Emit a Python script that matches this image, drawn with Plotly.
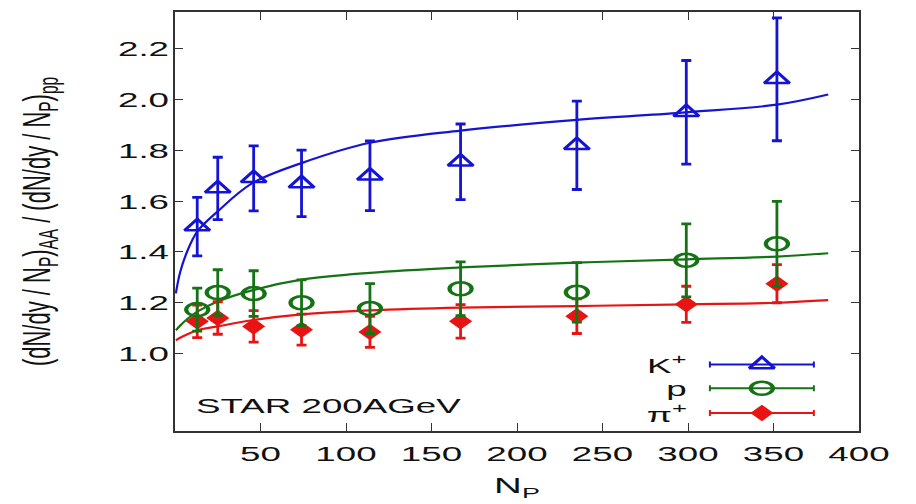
import plotly.graph_objects as go

# ---- data ----
npart = [13, 25, 46, 74, 114, 167, 235, 299, 352]

kplus = [1.50, 1.65, 1.69, 1.67, 1.70, 1.755, 1.82, 1.95, 2.08]
kplus_err = [0.115, 0.123, 0.128, 0.131, 0.137, 0.149, 0.174, 0.204, 0.242]

proton = [1.173, 1.240, 1.236, 1.200, 1.177, 1.255, 1.241, 1.367, 1.432]
proton_err = [0.085, 0.09, 0.09, 0.09, 0.098, 0.106, 0.117, 0.144, 0.167]

piplus = [1.127, 1.140, 1.107, 1.094, 1.085, 1.127, 1.147, 1.194, 1.275]
piplus_err = [0.064, 0.064, 0.062, 0.061, 0.061, 0.066, 0.068, 0.071, 0.075]

curve_x = [0.5, 3, 7, 13, 25, 45, 74, 114, 167, 235, 299, 352, 382]
kplus_curve = [1.237, 1.32, 1.40, 1.48, 1.56, 1.67, 1.75, 1.83, 1.878, 1.92, 1.95, 1.98, 2.02]
proton_curve = [1.092, 1.11, 1.135, 1.165, 1.205, 1.249, 1.291, 1.318, 1.339, 1.358, 1.371, 1.382, 1.395]
piplus_curve = [1.052, 1.062, 1.075, 1.092, 1.107, 1.131, 1.154, 1.170, 1.181, 1.187, 1.194, 1.200, 1.210]

x_ticks = [50, 100, 150, 200, 250, 300, 350, 400]
y_ticks = [1.0, 1.2, 1.4, 1.6, 1.8, 2.0, 2.2]

series_names = ["K<sup>+</sup>", "p", "π<sup>+</sup>"]

BLUE = "#1414d2"
GREEN = "#157315"
RED = "#e81414"
FONT = "Liberation Sans"

fig = go.Figure()

# fit curves
for cy, col in [(kplus_curve, BLUE), (proton_curve, GREEN), (piplus_curve, RED)]:
    fig.add_trace(go.Scatter(x=curve_x, y=cy, mode="lines",
                             line=dict(color=col, width=2.2, shape="spline"),
                             showlegend=False, hoverinfo="skip"))

# data points
specs = [
    (piplus, piplus_err, RED, "diamond", 10),
    (proton, proton_err, GREEN, "circle-open", 13),
    (kplus, kplus_err, BLUE, "triangle-up-open", 15),
]
for vals, errs, col, sym, sz in specs:
    fig.add_trace(go.Scatter(
        x=npart, y=vals, mode="markers",
        marker=dict(symbol=sym, size=sz, color=col, line=dict(color=col, width=2.5)),
        error_y=dict(type="data", array=errs, visible=True, color=col, thickness=2.8, width=5),
        showlegend=False))

# custom legend (overlay axis in plot-fraction units)
leg_rows = [0.159, 0.102, 0.043]
leg_syms = ["triangle-up-open", "circle-open", "diamond"]
leg_sizes = [15, 13, 10]
leg_cols = [BLUE, GREEN, RED]
for name, ry, sym, sz, col in zip(series_names, leg_rows, leg_syms, leg_sizes, leg_cols):
    fig.add_trace(go.Scatter(
        x=[0.858], y=[ry], mode="markers", xaxis="x2", yaxis="y2",
        marker=dict(symbol=sym, size=sz, color=col, line=dict(color=col, width=2.5)),
        error_x=dict(type="constant", value=0.076, visible=True, color=col, thickness=2, width=3),
        showlegend=False, hoverinfo="skip"))
    fig.add_annotation(x=0.752, y=ry, xref="x2", yref="y2", text=name, showarrow=False,
                       xanchor="right", yanchor="middle",
                       font=dict(family=FONT, size=21, color="#111"))

fig.add_annotation(x=0.028, y=0.062, xref="x2", yref="y2", text="STAR 200AGeV",
                   showarrow=False, xanchor="left", yanchor="middle",
                   font=dict(family=FONT, size=21, color="#111"))

axis_common = dict(showline=True, linecolor="#333", linewidth=1.5, mirror="ticks",
                   ticks="inside", ticklen=8, tickwidth=1.2, tickcolor="#333",
                   showgrid=False, zeroline=False,
                   tickfont=dict(family=FONT, size=21, color="#111"))

fig.update_layout(
    width=916, height=504,
    margin=dict(l=175, r=57, t=10, b=73),
    paper_bgcolor="white", plot_bgcolor="white",
    xaxis=dict(range=[0, 400], tickvals=x_ticks, ticktext=[str(v) for v in x_ticks],
               ticklabelstandoff=3,
               title=dict(text="N<sub>P</sub>", font=dict(family=FONT, size=22, color="#111"), standoff=14),
               **axis_common),
    yaxis=dict(range=[0.695, 2.345], tickvals=y_ticks, tickformat=".1f",
               title=dict(text="(dN/dy / N<sub>P</sub>)<sub>AA</sub> / (dN/dy / N<sub>P</sub>)<sub>pp</sub>",
                          font=dict(family=FONT, size=22, color="#111"), standoff=88),
               **axis_common),
    xaxis2=dict(overlaying="x", range=[0, 1], visible=False, fixedrange=True),
    yaxis2=dict(overlaying="y", range=[0, 1], visible=False, fixedrange=True),
)

# The reference picture is stretched horizontally; mimic that for texts and markers.
post_js = r"""
(function(){
  var gd = document.querySelector('.plotly-graph-div');
  if (!gd) return;
  var S = 1.75;
  var texts = gd.querySelectorAll('svg.main-svg text');
  texts.forEach(function(el){
    if (!el.textContent || !el.textContent.trim()) return;
    var r = el.getBoundingClientRect();
    if (r.width === 0) return;
    var anchor = el.getAttribute('text-anchor') || 'start';
    var ax;
    var ann = el.closest('g.annotation');
    if (ann) {
      var idx = parseInt(ann.getAttribute('data-index') || '0');
      ax = (idx < 3) ? r.right : r.left;
    } else if (anchor === 'end') { ax = r.right; }
    else if (anchor === 'middle') { ax = r.left + r.width / 2; }
    else { ax = r.left; }
    var pm = el.parentNode.getScreenCTM();
    var px = (ax - pm.e) / pm.a;
    var old = el.getAttribute('transform') || '';
    el.setAttribute('transform', 'translate(' + px + ',0) scale(' + S + ',1) translate(' + (-px) + ',0) ' + old);
  });
  var pts = gd.querySelectorAll('.scatterlayer path.point');
  pts.forEach(function(p){
    var d = p.getAttribute('d') || '';
    var s = 1.4;
    if (d.indexOf('A') >= 0) s = 1.7;
    else if (d.indexOf('H') >= 0) s = 1.45;
    var old = p.getAttribute('transform') || '';
    p.setAttribute('transform', old + ' scale(' + s + ',1)');
  });
})();
"""

fig.write_html("out.html", post_script=post_js)
